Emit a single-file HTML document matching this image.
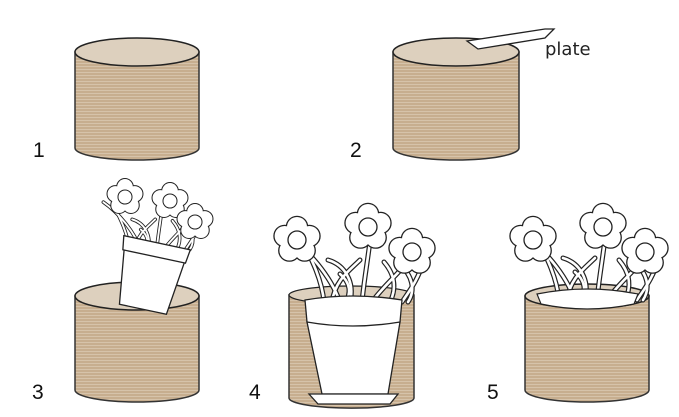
<!DOCTYPE html>
<html><head><meta charset="utf-8"><style>html,body{margin:0;padding:0;background:#fff}svg{display:block}</style></head>
<body>
<svg width="679" height="417" viewBox="0 0 679 417" xmlns="http://www.w3.org/2000/svg">
<defs>
<pattern id="str" width="4" height="3" patternUnits="userSpaceOnUse">
<rect width="4" height="3" fill="#c7ae8f"/><rect width="4" height="1" fill="#d6c3aa"/></pattern>
<g id="fl">
<g stroke="#222" stroke-width="2.6" fill="#fff">
<circle cx="0" cy="-13" r="10"/><circle cx="12.4" cy="-4" r="10"/><circle cx="7.6" cy="10.5" r="10"/><circle cx="-7.6" cy="10.5" r="10"/><circle cx="-12.4" cy="-4" r="10"/></g>
<g fill="#fff"><circle cx="0" cy="-13" r="10"/><circle cx="12.4" cy="-4" r="10"/><circle cx="7.6" cy="10.5" r="10"/><circle cx="-7.6" cy="10.5" r="10"/><circle cx="-12.4" cy="-4" r="10"/><circle r="11"/></g>
<circle r="9" fill="#fff" stroke="#222" stroke-width="1.3"/>
</g>
<g id="sp">
<path d="M2 0 C12 20 22 40 24 62"/>
<path d="M72 -15 C68 20 64 40 62 62"/>
<path d="M116 12 C101 32 82 47 72 62"/>
<path d="M-12 -4 C8 10 30 35 40 62"/>
<path d="M28 20 C45 25 55 42 50 62"/>
<path d="M100 25 C112 35 116 50 108 62"/>
<path d="M40 34 C52 44 50 54 46 62"/>
<path d="M84 22 C96 36 96 50 90 62"/>
<path d="M60 20 C50 30 35 40 32 62"/>
<path d="M124 20 C118 40 110 50 102 62"/>
</g>
<g id="stems" fill="none" stroke-linecap="round">
<use href="#sp" stroke="#222" stroke-width="5"/>
<use href="#sp" stroke="#fff" stroke-width="2.6"/>
</g>
</defs>

<!-- cylinder 1 -->
<path d="M75 52 V148 A62 12 0 0 0 199 148 V52 Z" fill="url(#str)" stroke="#333" stroke-width="1.5"/>
<ellipse cx="137" cy="52" rx="62" ry="14" fill="#ddd0be" stroke="#222" stroke-width="1.5"/>
<!-- cylinder 2 -->
<path d="M393 52 V148 A63 12 0 0 0 519 148 V52 Z" fill="url(#str)" stroke="#333" stroke-width="1.5"/>
<ellipse cx="456" cy="52" rx="63" ry="14" fill="#ddd0be" stroke="#222" stroke-width="1.5"/>
<path d="M467 41 L545 29 L554 29 L545 38 L478 49 Z" fill="#fff" stroke="#222" stroke-width="1.3"/>
<text x="545" y="55" font-family="DejaVu Sans,sans-serif" font-size="18" fill="#222">plate</text>

<!-- cylinder 3 -->
<path d="M75 296 V390 A62 12 0 0 0 199 390 V296 Z" fill="url(#str)" stroke="#333" stroke-width="1.5"/>
<ellipse cx="137" cy="296" rx="62" ry="14" fill="#ddd0be" stroke="#222" stroke-width="1.5"/>
<!-- pot 3 tilted -->
<g transform="translate(112 205) scale(0.72)"><use href="#stems"/></g>
<g transform="translate(150 276) rotate(12)">
<path d="M-31 -22 L31 -22 L24 34 L-24 34 Z" fill="#fff" stroke="#222" stroke-width="1.3"/>
<path d="M-34 -34 L34 -34 L32 -20 L-32 -20 Z" fill="#fff" stroke="#222" stroke-width="1.3"/>
</g>
<g transform="translate(125 197) scale(0.78)"><use href="#fl"/></g>
<g transform="translate(170 201) scale(0.78)"><use href="#fl"/></g>
<g transform="translate(195 222) scale(0.78)"><use href="#fl"/></g>

<!-- cylinder 4 -->
<path d="M289 295 V398 A62 10 0 0 0 414 398 V295 Z" fill="url(#str)" stroke="#333" stroke-width="1.5"/>
<ellipse cx="351" cy="295" rx="62" ry="9" fill="#ddd0be" stroke="#222" stroke-width="1.3"/>
<g transform="translate(300 240)"><use href="#stems"/></g>
<path d="M307 322 L400 322 L388 394 L322 394 Z" fill="#fff" stroke="#222" stroke-width="1.3"/>
<path d="M305 300 Q352 292 402 300 L400 322 Q352 330 307 322 Z" fill="#fff" stroke="#222" stroke-width="1.3"/>
<path d="M309 394 L398 394 L390 404 L318 404 Z" fill="#fff" stroke="#222" stroke-width="1.3"/>
<use href="#fl" transform="translate(297 240)"/>
<use href="#fl" transform="translate(368 227)"/>
<use href="#fl" transform="translate(412 252)"/>

<!-- cylinder 5 -->
<path d="M525 296 V390 A62 12 0 0 0 649 390 V296 Z" fill="url(#str)" stroke="#333" stroke-width="1.5"/>
<ellipse cx="587" cy="296" rx="62" ry="12" fill="#ddd0be" stroke="#222" stroke-width="1.5"/>
<g transform="translate(535 238)"><use href="#stems"/></g>
<path d="M537 294 Q587 284 638 294 L634 304 Q587 314 541 304 Z" fill="#fff" stroke="#222" stroke-width="1.2"/>
<use href="#fl" transform="translate(533 240)"/>
<use href="#fl" transform="translate(603 227)"/>
<use href="#fl" transform="translate(645 252)"/>

<g font-family="Liberation Sans,sans-serif" font-size="21" fill="#111">
<text x="33" y="157">1</text><text x="350" y="157">2</text>
<text x="32" y="399">3</text><text x="249" y="399">4</text><text x="487" y="399">5</text>
</g>
</svg>
</body></html>
